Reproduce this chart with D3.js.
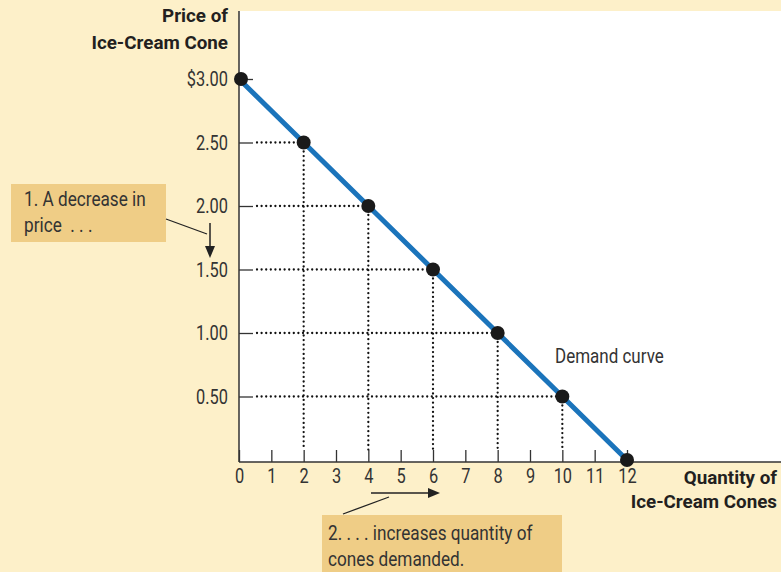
<!DOCTYPE html>
<html><head><meta charset="utf-8">
<script src="https://cdn.jsdelivr.net/npm/d3@7"></script>
<style>html,body{margin:0;padding:0;background:#fdf0c9;} svg{display:block;} text{white-space:pre;}</style>
</head><body>
<script>
const quantity = [0, 2, 4, 6, 8, 10, 12];
const price = [3.0, 2.5, 2.0, 1.5, 1.0, 0.5, 0];
const xTicks = [0,1,2,3,4,5,6,7,8,9,10,11,12];
const yTicks = [0.5, 1.0, 1.5, 2.0, 2.5, 3.0];
const yTickLabels = ["0.50", "1.00", "1.50", "2.00", "2.50", "$3.00"];

(function () {
const W = 781, H = 572;
const FONT = "Roboto, 'Open Sans', sans-serif";
const svg = d3.select("body").append("svg").attr("width", W).attr("height", H);
svg.append("rect").attr("width", W).attr("height", H).attr("fill", "#fdf0c9");

const x0 = 239, yAxis = 462, plotTop = 11;
const x = d3.scaleLinear().domain([0, 12]).range([x0, 627]);
const y = d3.scaleLinear().domain([0, 3]).range([460, 79]);

// plot area
svg.append("rect").attr("x", x0).attr("y", plotTop).attr("width", W - x0).attr("height", yAxis - plotTop).attr("fill", "#fff");

function txt(g, px, py, str, o) {
  o = o || {};
  const sx = o.sx || 0.85;
  return g.append("text")
    .attr("transform", `translate(${px},${py}) scale(${sx},1)`)
    .attr("text-anchor", o.anchor || "start")
    .attr("font-family", FONT)
    .attr("font-size", o.size || 20)
    .attr("font-weight", o.bold ? 700 : 400)
    .attr("fill", o.fill || "#333")
    .text(str);
}

// dotted guides
const pts = quantity.map((q, i) => ({q, p: price[i]}));
const inner = pts.filter(d => d.q > 0 && d.p > 0);
const guides = svg.append("g").attr("stroke", "#111").attr("stroke-width", 2.3)
  .attr("stroke-linecap", "round").attr("stroke-dasharray", "0 4.6").attr("fill", "none");
inner.forEach(d => {
  guides.append("line").attr("x1", x(0) + 18).attr("x2", x(d.q) - 6).attr("y1", y(d.p)).attr("y2", y(d.p));
  guides.append("line").attr("x1", x(d.q)).attr("x2", x(d.q)).attr("y1", y(d.p) + 9).attr("y2", yAxis - 12);
});

// axes
const sxT = 0.78;
const gx = svg.append("g").attr("transform", `translate(0,${yAxis})`)
  .call(d3.axisBottom(x).tickValues(xTicks).tickSizeInner(-12).tickSizeOuter(0).tickPadding(6));
gx.select(".domain").remove();
gx.selectAll("line").attr("stroke", "#333").attr("stroke-width", 1.3);
gx.selectAll("text").attr("font-family", FONT).attr("font-size", 21).attr("fill", "#333").attr("transform", `scale(${sxT},1)`);

const gy = svg.append("g").attr("transform", `translate(${x0},0)`)
  .call(d3.axisLeft(y).tickValues(yTicks).tickFormat((d, i) => yTickLabels[i]).tickSizeInner(-14).tickSizeOuter(0).tickPadding(11));
gy.select(".domain").remove();
gy.selectAll("line").attr("stroke", "#333").attr("stroke-width", 1.3);
gy.selectAll("text").attr("font-family", FONT).attr("font-size", 21).attr("fill", "#333")
  .attr("x", -11 / sxT).attr("transform", `scale(${sxT},1)`);

svg.append("line").attr("x1", x0).attr("x2", W).attr("y1", yAxis).attr("y2", yAxis).attr("stroke", "#333").attr("stroke-width", 1.5);
svg.append("line").attr("x1", x0).attr("x2", x0).attr("y1", plotTop).attr("y2", yAxis).attr("stroke", "#333").attr("stroke-width", 1.5);

// demand line
svg.append("path").datum(pts)
  .attr("d", d3.line().x(d => x(d.q)).y(d => y(d.p)))
  .attr("fill", "none").attr("stroke", "#1b74bb").attr("stroke-width", 5);

svg.append("g").selectAll("circle").data(pts).join("circle")
  .attr("cx", d => x(d.q) + (d.q === 0 ? 2 : 0)).attr("cy", d => y(d.p)).attr("r", 7).attr("fill", "#1a1a1a");

// titles
txt(svg, 228, 22, "Price of", {bold: true, anchor: "end", size: 19, sx: 0.99, fill: "#231f20"});
txt(svg, 228, 49, "Ice-Cream Cone", {bold: true, anchor: "end", size: 19, sx: 0.99, fill: "#231f20"});
txt(svg, 777, 484, "Quantity of", {bold: true, anchor: "end", size: 19, sx: 0.99, fill: "#231f20"});
txt(svg, 777, 508, "Ice-Cream Cones", {bold: true, anchor: "end", size: 19, sx: 0.99, fill: "#231f20"});

txt(svg, 555, 363, "Demand curve", {size: 20, sx: 0.85});

// annotation boxes
svg.append("rect").attr("x", 11).attr("y", 184).attr("width", 155).attr("height", 58).attr("fill", "#efcd86");
txt(svg, 24, 206, "1. A decrease in", {size: 20, sx: 0.86});
txt(svg, 24, 232, "price  . . .", {size: 20, sx: 0.86});

svg.append("rect").attr("x", 322).attr("y", 515).attr("width", 240).attr("height", 57).attr("fill", "#efcd86");
txt(svg, 328, 540, "2. . . . increases quantity of", {size: 20, sx: 0.86});
txt(svg, 328, 566, "cones demanded.", {size: 20, sx: 0.86});

// leaders & arrows
const ink = "#222";
svg.append("line").attr("x1", 166).attr("y1", 219).attr("x2", 207).attr("y2", 234).attr("stroke", ink).attr("stroke-width", 1.3);
svg.append("line").attr("x1", 210).attr("y1", 223).attr("x2", 210).attr("y2", 250).attr("stroke", ink).attr("stroke-width", 1.5);
svg.append("path").attr("d", "M205,246 L215,246 L210,258 Z").attr("fill", ink);

svg.append("line").attr("x1", 343).attr("y1", 514).attr("x2", 389).attr("y2", 497).attr("stroke", ink).attr("stroke-width", 1.3);
svg.append("line").attr("x1", 371).attr("y1", 493).attr("x2", 432).attr("y2", 493).attr("stroke", ink).attr("stroke-width", 1.5);
svg.append("path").attr("d", "M428,488 L428,498 L440,493 Z").attr("fill", ink);
})();
</script>
</body></html>
